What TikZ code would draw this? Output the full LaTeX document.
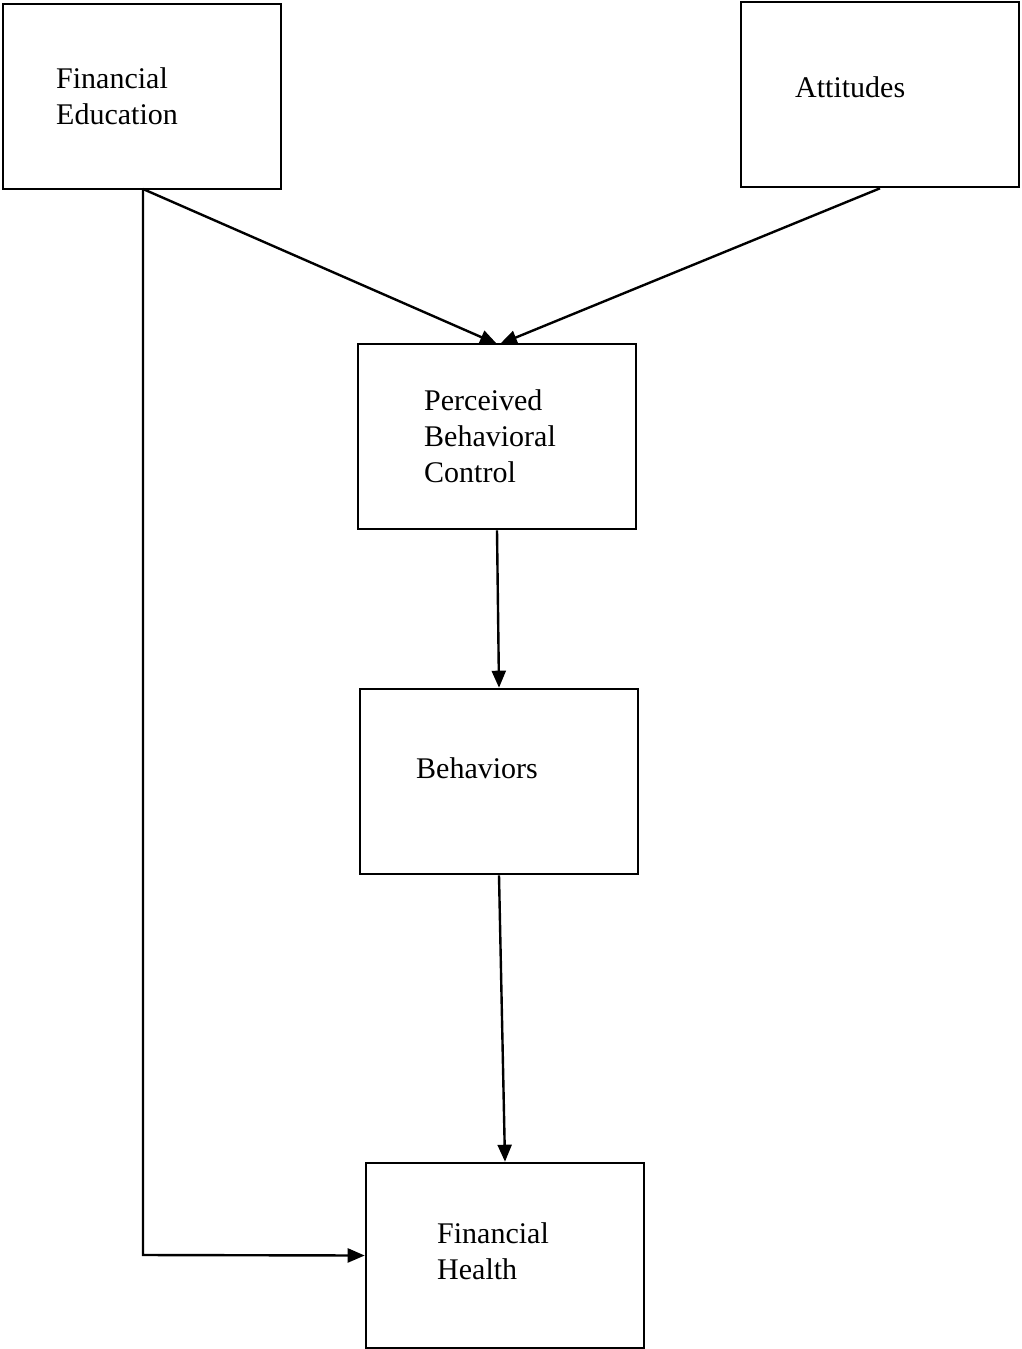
\documentclass[tikz,border=0pt]{standalone}
\usepackage{fontspec}
\setmainfont{Liberation Serif}
\usetikzlibrary{arrows.meta}
\begin{document}
\begin{tikzpicture}[x=1pt,y=-1pt,
  box/.style={draw=black,line width=2.6pt,rectangle,inner sep=0pt,minimum width=278pt,minimum height=185pt},
  lbl/.style={anchor=base west,inner sep=0pt,align=left,font=\fontsize{30}{36}\selectfont},
  conn/.style={line width=2.4pt,-{Triangle[length=17pt,width=14pt]}}]
\useasboundingbox (0,0) rectangle (1021,1349);
\node[box] (fe) at (142,96.5) {};
\node[box] (att) at (880,94.5) {};
\node[box] (pbc) at (497,436.5) {};
\node[box] (beh) at (499,781.5) {};
\node[box] (fh) at (505,1255.5) {};
\node[lbl] (fet) at (56,124) {Financial\\Education};
\node[lbl] (attt) at (795,97) {Attitudes};
\node[lbl] (pbct) at (424,482) {Perceived\\Behavioral\\Control};
\node[lbl] (beht) at (416,778) {Behaviors};
\node[lbl] (fht) at (437,1279) {Financial\\Health};
\coordinate (fes) at (143,189);
\coordinate (corner) at (143,1255);
\draw[conn] (fes) -- (497,344);
\draw[conn] (att.south) -- (500,344);
\draw[conn] (fes) -- (corner) -- (fh.west);
\draw[conn] (pbc.south) -- (beh.north);
\draw[conn] (beh.south) -- (fh.north);
\end{tikzpicture}
\end{document}
